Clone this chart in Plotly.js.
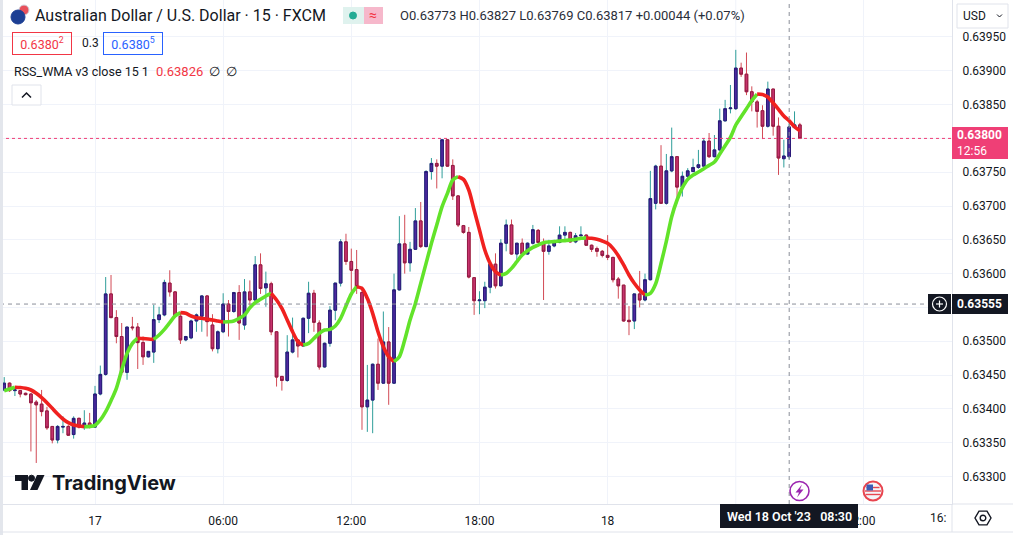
<!DOCTYPE html>
<html>
<head>
<meta charset="utf-8">
<script src="https://cdn.plot.ly/plotly-3.0.1.min.js"></script>
<style>
html, body { margin: 0; padding: 0; background: #fff; }
#chart { width: 1013px; height: 535px; }
</style>
</head>
<body>
<div id="chart"></div>
<script>
// AUD/USD 15 min bars (FXCM), 16 Oct 19:45 -> 18 Oct 09:00
var startTime = Date.UTC(2023, 9, 16, 19, 45);
var barMinutes = 15;

var opens = [
  0.63428, 0.63438, 0.63427, 0.63427, 0.63423, 0.63422, 0.63410, 0.63407, 0.63397, 0.63374,
  0.63354, 0.63373, 0.63374, 0.63362, 0.63386, 0.63373, 0.63379, 0.63373, 0.63422, 0.63451,
  0.63570, 0.63535, 0.63507, 0.63454, 0.63521, 0.63521, 0.63498, 0.63477, 0.63484, 0.63532,
  0.63539, 0.63586, 0.63573, 0.63537, 0.63502, 0.63505, 0.63530, 0.63537, 0.63567, 0.63524,
  0.63489, 0.63514, 0.63555, 0.63544, 0.63572, 0.63524, 0.63573, 0.63561, 0.63613, 0.63579,
  0.63585, 0.63514, 0.63448, 0.63442, 0.63484, 0.63502, 0.63493, 0.63534, 0.63571, 0.63527,
  0.63462, 0.63497, 0.63546, 0.63586, 0.63647, 0.63618, 0.63606, 0.63572, 0.63403, 0.63413,
  0.63466, 0.63438, 0.63499, 0.63438, 0.63576, 0.63644, 0.63616, 0.63636, 0.63678, 0.63640,
  0.63751, 0.63763, 0.63759, 0.63798, 0.63760, 0.63715, 0.63671, 0.63661, 0.63594, 0.63560,
  0.63560, 0.63580, 0.63614, 0.63582, 0.63645, 0.63672, 0.63629, 0.63645, 0.63629, 0.63645,
  0.63664, 0.63646, 0.63633, 0.63641, 0.63646, 0.63657, 0.63661, 0.63647, 0.63656, 0.63657,
  0.63642, 0.63637, 0.63633, 0.63627, 0.63624, 0.63592, 0.63583, 0.63531, 0.63530, 0.63570,
  0.63561, 0.63591, 0.63704, 0.63759, 0.63704, 0.63752, 0.63773, 0.63728, 0.63744, 0.63751,
  0.63757, 0.63759, 0.63796, 0.63773, 0.63783, 0.63826, 0.63844, 0.63844, 0.63904, 0.63895,
  0.63869, 0.63854, 0.63841, 0.63818, 0.63873, 0.63818, 0.63770, 0.63773, 0.63816, 0.63820
];
var highs = [
  0.63447, 0.63439, 0.63430, 0.63428, 0.63424, 0.63423, 0.63413, 0.63428, 0.63403, 0.63374,
  0.63376, 0.63389, 0.63376, 0.63389, 0.63387, 0.63398, 0.63394, 0.63434, 0.63464, 0.63595,
  0.63598, 0.63546, 0.63527, 0.63521, 0.63536, 0.63527, 0.63507, 0.63485, 0.63554, 0.63551,
  0.63591, 0.63605, 0.63574, 0.63543, 0.63508, 0.63532, 0.63541, 0.63568, 0.63568, 0.63540,
  0.63516, 0.63571, 0.63561, 0.63573, 0.63583, 0.63592, 0.63590, 0.63626, 0.63630, 0.63603,
  0.63588, 0.63515, 0.63448, 0.63509, 0.63535, 0.63502, 0.63535, 0.63588, 0.63576, 0.63531,
  0.63498, 0.63552, 0.63586, 0.63651, 0.63659, 0.63637, 0.63635, 0.63581, 0.63465, 0.63467,
  0.63504, 0.63544, 0.63521, 0.63600, 0.63685, 0.63687, 0.63647, 0.63697, 0.63706, 0.63753,
  0.63771, 0.63769, 0.63798, 0.63798, 0.63769, 0.63716, 0.63672, 0.63669, 0.63595, 0.63574,
  0.63588, 0.63615, 0.63630, 0.63651, 0.63680, 0.63680, 0.63645, 0.63652, 0.63646, 0.63672,
  0.63666, 0.63652, 0.63650, 0.63650, 0.63670, 0.63670, 0.63662, 0.63660, 0.63670, 0.63658,
  0.63643, 0.63640, 0.63635, 0.63657, 0.63625, 0.63595, 0.63583, 0.63552, 0.63570, 0.63604,
  0.63600, 0.63752, 0.63761, 0.63790, 0.63777, 0.63816, 0.63774, 0.63751, 0.63756, 0.63770,
  0.63783, 0.63800, 0.63808, 0.63805, 0.63844, 0.63857, 0.63879, 0.63931, 0.63912, 0.63927,
  0.63877, 0.63857, 0.63849, 0.63884, 0.63873, 0.63831, 0.63798, 0.63827, 0.63840, 0.63823
];
var lows = [
  0.63426, 0.63425, 0.63419, 0.63417, 0.63420, 0.63337, 0.63320, 0.63389, 0.63369, 0.63349,
  0.63349, 0.63364, 0.63360, 0.63356, 0.63371, 0.63369, 0.63371, 0.63372, 0.63420, 0.63449,
  0.63534, 0.63497, 0.63450, 0.63443, 0.63516, 0.63459, 0.63465, 0.63476, 0.63468, 0.63527,
  0.63537, 0.63566, 0.63536, 0.63496, 0.63500, 0.63503, 0.63514, 0.63514, 0.63507, 0.63485,
  0.63482, 0.63512, 0.63507, 0.63542, 0.63502, 0.63517, 0.63553, 0.63560, 0.63570, 0.63551,
  0.63509, 0.63433, 0.63427, 0.63440, 0.63482, 0.63476, 0.63492, 0.63512, 0.63514, 0.63458,
  0.63461, 0.63492, 0.63531, 0.63581, 0.63613, 0.63573, 0.63570, 0.63369, 0.63366, 0.63364,
  0.63428, 0.63437, 0.63406, 0.63437, 0.63575, 0.63600, 0.63603, 0.63635, 0.63638, 0.63639,
  0.63739, 0.63726, 0.63741, 0.63758, 0.63709, 0.63669, 0.63659, 0.63593, 0.63539, 0.63540,
  0.63549, 0.63571, 0.63578, 0.63581, 0.63633, 0.63628, 0.63618, 0.63628, 0.63628, 0.63643,
  0.63645, 0.63561, 0.63628, 0.63639, 0.63645, 0.63651, 0.63646, 0.63645, 0.63655, 0.63641,
  0.63632, 0.63625, 0.63624, 0.63620, 0.63587, 0.63563, 0.63529, 0.63509, 0.63518, 0.63550,
  0.63559, 0.63590, 0.63695, 0.63703, 0.63702, 0.63750, 0.63704, 0.63714, 0.63738, 0.63750,
  0.63755, 0.63758, 0.63771, 0.63772, 0.63781, 0.63825, 0.63837, 0.63842, 0.63891, 0.63864,
  0.63840, 0.63816, 0.63799, 0.63816, 0.63804, 0.63746, 0.63757, 0.63769, 0.63815, 0.63799
];
var closes = [
  0.63438, 0.63427, 0.63428, 0.63422, 0.63421, 0.63409, 0.63406, 0.63396, 0.63372, 0.63354,
  0.63374, 0.63374, 0.63361, 0.63386, 0.63373, 0.63379, 0.63373, 0.63422, 0.63451, 0.63570,
  0.63535, 0.63507, 0.63454, 0.63521, 0.63520, 0.63498, 0.63477, 0.63485, 0.63532, 0.63539,
  0.63587, 0.63573, 0.63537, 0.63502, 0.63507, 0.63530, 0.63539, 0.63567, 0.63529, 0.63489,
  0.63514, 0.63555, 0.63544, 0.63572, 0.63527, 0.63573, 0.63561, 0.63613, 0.63578, 0.63585,
  0.63514, 0.63447, 0.63442, 0.63484, 0.63502, 0.63493, 0.63534, 0.63571, 0.63528, 0.63462,
  0.63497, 0.63546, 0.63586, 0.63647, 0.63618, 0.63605, 0.63581, 0.63403, 0.63413, 0.63466,
  0.63438, 0.63499, 0.63438, 0.63576, 0.63644, 0.63616, 0.63636, 0.63678, 0.63640, 0.63751,
  0.63763, 0.63759, 0.63798, 0.63759, 0.63715, 0.63672, 0.63661, 0.63595, 0.63560, 0.63561,
  0.63580, 0.63614, 0.63582, 0.63645, 0.63672, 0.63629, 0.63645, 0.63629, 0.63645, 0.63665,
  0.63646, 0.63633, 0.63641, 0.63646, 0.63657, 0.63661, 0.63647, 0.63656, 0.63657, 0.63642,
  0.63636, 0.63633, 0.63627, 0.63624, 0.63591, 0.63582, 0.63530, 0.63529, 0.63570, 0.63561,
  0.63591, 0.63711, 0.63759, 0.63704, 0.63752, 0.63773, 0.63728, 0.63744, 0.63752, 0.63757,
  0.63761, 0.63796, 0.63773, 0.63783, 0.63826, 0.63844, 0.63845, 0.63904, 0.63895, 0.63869,
  0.63854, 0.63840, 0.63818, 0.63873, 0.63818, 0.63771, 0.63774, 0.63817, 0.63820, 0.63800
];
// RSS_WMA v3 (close, 15, 1)
var wma = [
  0.634269, 0.634294, 0.634320, 0.634316, 0.634304, 0.634279, 0.634230, 0.634166, 0.634092, 0.634008,
  0.633924, 0.633850, 0.633796, 0.633761, 0.633747, 0.633737, 0.633740, 0.633757, 0.633836, 0.633959,
  0.634121, 0.634304, 0.634575, 0.634821, 0.634969, 0.635045, 0.635040, 0.635033, 0.635028, 0.635093,
  0.635176, 0.635275, 0.635374, 0.635423, 0.635413, 0.635374, 0.635349, 0.635339, 0.635324, 0.635315,
  0.635300, 0.635285, 0.635288, 0.635300, 0.635339, 0.635388, 0.635495, 0.635570, 0.635620, 0.635669,
  0.635708, 0.635610, 0.635487, 0.635314, 0.635141, 0.634994, 0.634944, 0.634969, 0.635043, 0.635117,
  0.635166, 0.635176, 0.635226, 0.635339, 0.635521, 0.635699, 0.635807, 0.635782, 0.635635, 0.635413,
  0.635141, 0.634920, 0.634772, 0.634698, 0.634772, 0.635018, 0.635314, 0.635560, 0.635856, 0.636152,
  0.636448, 0.636719, 0.636990, 0.637187, 0.637385, 0.637434, 0.637394, 0.637237, 0.636941, 0.636645,
  0.636349, 0.636152, 0.636029, 0.635979, 0.636004, 0.636078, 0.636177, 0.636275, 0.636339, 0.636389,
  0.636423, 0.636458, 0.636468, 0.636473, 0.636483, 0.636488, 0.636497, 0.636507, 0.636522, 0.636532,
  0.636522, 0.636507, 0.636483, 0.636448, 0.636374, 0.636266, 0.636128, 0.635980, 0.635857, 0.635758,
  0.635684, 0.635709, 0.635850, 0.636150, 0.636480, 0.636842, 0.637089, 0.637271, 0.637394, 0.637458,
  0.637503, 0.637552, 0.637601, 0.637651, 0.637769, 0.637892, 0.638015, 0.638198, 0.638321, 0.638439,
  0.638558, 0.638656, 0.638650, 0.638612, 0.638523, 0.638430, 0.638331, 0.638260, 0.638173, 0.638114
];

// labelled ticks; the ones hidden under the badges only get a grid line
var priceTicks = [0.633, 0.6335, 0.634, 0.6345, 0.635, 0.636, 0.6365, 0.637, 0.6375, 0.6385, 0.639, 0.6395];
var priceLabels = ['0.63300', '0.63350', '0.63400', '0.63450', '0.63500', '0.63600', '0.63650', '0.63700', '0.63750', '0.63850', '0.63900', '0.63950'];
var hiddenPriceGrid = [0.6355, 0.638];
var timeTicks = ['2023-10-17 00:00', '2023-10-17 06:00', '2023-10-17 12:00', '2023-10-17 18:00', '2023-10-18 00:00', '2023-10-18 12:00'];
var timeLabels = ['17', '06:00', '12:00', '18:00', '18', '2:00'];
var hiddenTimeGrid = ['2023-10-18 06:00'];

var lastPrice = 0.638;
var crossPrice = 0.63555;
var crossTime = '2023-10-18 08:30';

var times = opens.map(function (o, i) {
  var d = new Date(startTime + i * barMinutes * 60000);
  return d.toISOString().slice(0, 16).replace('T', ' ');
});

// full candles give the wicks (teal / red), second pass paints the bodies
var wicks = {
  type: 'candlestick', x: times, open: opens, high: highs, low: lows, close: closes,
  increasing: { line: { color: '#2f9e9a', width: 1 }, fillcolor: '#2f9e9a' },
  decreasing: { line: { color: '#d24b55', width: 1 }, fillcolor: '#d24b55' },
  hoverinfo: 'skip', showlegend: false
};
var bodies = {
  type: 'candlestick', x: times, open: opens, close: closes,
  high: opens.map(function (o, i) { return Math.max(o, closes[i]); }),
  low: opens.map(function (o, i) { return Math.min(o, closes[i]); }),
  increasing: { line: { color: '#2c1878', width: 1 }, fillcolor: '#4b2a9f' },
  decreasing: { line: { color: '#8f1c45', width: 1 }, fillcolor: '#c8326e' },
  hoverinfo: 'skip', showlegend: false
};

var traces = [wicks, bodies];

// WMA: green while rising, red while falling
function rising(i) { return wma[i + 1] >= wma[i]; }
var runStart = 0, runUp = rising(0);
function pushRun(a, b, up) {
  traces.push({
    type: 'scatter', mode: 'lines', x: times.slice(a, b + 1), y: wma.slice(a, b + 1),
    line: { color: up ? '#62e32a' : '#f0211f', width: 3.6, shape: 'spline', smoothing: 0.8 },
    hoverinfo: 'skip', showlegend: false
  });
}
for (var j = 1; j < wma.length - 1; j++) {
  if (rising(j) !== runUp) {
    pushRun(runStart, j, runUp);
    runStart = j;
    runUp = rising(j);
  }
}
pushRun(runStart, wma.length - 1, runUp);

// pixel -> paper helpers for the decorations
var W = 952, H = 504;
function px(x) { return x / W; }
function py(y) { return 1 - y / H; }
function poly(pts) {
  return 'M' + pts.map(function (p) { return px(p[0]) + ',' + py(p[1]); }).join(' L') + ' Z';
}
function circ(cx, cy, r, line, fill, lw) {
  return { type: 'circle', xref: 'paper', yref: 'paper', x0: px(cx - r), x1: px(cx + r), y0: py(cy + r), y1: py(cy - r),
    line: { color: line, width: lw || 1 }, fillcolor: fill, layer: 'above' };
}
function rect(x0, y0, x1, y1, fill, line, lw) {
  return { type: 'rect', xref: 'paper', yref: 'paper', x0: px(x0), x1: px(x1), y0: py(y1), y1: py(y0),
    fillcolor: fill, line: { color: line || fill, width: lw === undefined ? 0 : lw }, layer: 'above' };
}
function seg(x0, y0, x1, y1, color, lw, dash) {
  return { type: 'line', xref: 'paper', yref: 'paper', x0: px(x0), x1: px(x1), y0: py(y0), y1: py(y1),
    line: { color: color, width: lw, dash: dash || 'solid' }, layer: 'above' };
}

var FONT = 'Roboto, "Noto Sans", sans-serif';
var ink = '#131722';
var gridColor = '#f0f3fa';

var shapes = [];
hiddenPriceGrid.forEach(function (p) {
  shapes.push({ type: 'line', xref: 'paper', yref: 'y', x0: 0, x1: 1, y0: p, y1: p,
    line: { color: gridColor, width: 1 }, layer: 'below' });
});
hiddenTimeGrid.forEach(function (t) {
  shapes.push({ type: 'line', xref: 'x', yref: 'paper', x0: t, x1: t, y0: 0, y1: 1,
    line: { color: gridColor, width: 1 }, layer: 'below' });
});

shapes = shapes.concat([
  // last price dotted line
  { type: 'line', xref: 'paper', yref: 'y', x0: 0, x1: 1, y0: lastPrice, y1: lastPrice,
    line: { color: '#ef3f76', width: 1, dash: 'dot' }, layer: 'above' },
  // crosshair
  { type: 'line', xref: 'x', yref: 'paper', x0: crossTime, x1: crossTime, y0: 0, y1: 1,
    line: { color: '#8a8e99', width: 1, dash: '4px,4px' }, layer: 'above' },
  { type: 'line', xref: 'paper', yref: 'y', x0: 0, x1: px(928), y0: crossPrice, y1: crossPrice,
    line: { color: '#8a8e99', width: 1, dash: '4px,4px' }, layer: 'above' },
  // frame lines
  rect(0, 0, 3, 535, '#e3e6ec'),
  seg(952, 504, 1013, 504, '#e0e3eb', 1),
  seg(952, 504, 952, 532, '#e0e3eb', 1),
  seg(0, 532, 1013, 532, '#e0e3eb', 1),
  // crosshair "+" button
  rect(928, 294, 951, 314, '#131722'),
  circ(939.5, 304, 7, '#ffffff', 'rgba(0,0,0,0)', 1.2),
  seg(936, 304, 943, 304, '#ffffff', 1.2),
  seg(939.5, 300.5, 939.5, 307.5, '#ffffff', 1.2),
  // header flag
  circ(24, 10, 5, '#d0d4de', '#e8505b', 1),
  circ(18, 17, 7, '#1c3f94', '#1c3f94', 1),
  // status badge
  rect(343, 7, 364, 24, '#dff2ee'),
  rect(364, 7, 383, 24, '#f6b8cb'),
  circ(353, 15.5, 3.5, '#22ab94', '#22ab94', 1),
  // collapse button
  rect(12, 85, 41, 105, '#ffffff', '#e0e3eb', 1),
  { type: 'path', xref: 'paper', yref: 'paper', path: 'M' + px(22) + ',' + py(97.5) + ' L' + px(26.5) + ',' + py(93) + ' L' + px(31) + ',' + py(97.5),
    line: { color: ink, width: 1.5 }, layer: 'above' },
  // USD selector
  rect(957, 4, 1008, 28, '#ffffff', '#e0e3eb', 1),
  { type: 'path', xref: 'paper', yref: 'paper', path: 'M' + px(997) + ',' + py(14.5) + ' L' + px(999.5) + ',' + py(17) + ' L' + px(1002) + ',' + py(14.5),
    line: { color: ink, width: 1 }, layer: 'above' },
  // price / time badges
  rect(952, 127, 1008, 159, '#ef3f76'),
  rect(952, 294, 1008, 314, '#131722'),
  rect(720, 504, 858, 528, '#131722'),
  // TradingView mark
  { type: 'path', xref: 'paper', yref: 'paper', path: poly([[15, 475], [28, 475], [28, 490], [21.5, 490], [21.5, 481], [15, 481]]),
    fillcolor: ink, line: { width: 0 }, layer: 'above' },
  circ(31.5, 478.2, 3, ink, ink, 0),
  { type: 'path', xref: 'paper', yref: 'paper', path: poly([[37, 475], [44.5, 475], [37.5, 490], [30, 490]]),
    fillcolor: ink, line: { width: 0 }, layer: 'above' },
  // economic event markers
  circ(799.5, 491, 9.5, '#9c27b0', '#ffffff', 1.6),
  { type: 'path', xref: 'paper', yref: 'paper', path: poly([[802, 484.5], [795.5, 492.5], [799, 492.5], [797, 497.5], [803.5, 489.5], [800, 489.5]]),
    fillcolor: '#9c27b0', line: { width: 0 }, layer: 'above' },
  circ(873, 491, 9.5, '#e8454f', '#f4f4f8', 2),
  seg(866.5, 487.5, 879.5, 487.5, '#e8454f', 1.4),
  seg(865, 491, 881, 491, '#e8454f', 1.4),
  seg(865.5, 494.5, 880.5, 494.5, '#e8454f', 1.4),
  rect(866.5, 484.5, 873, 490.5, '#3b5bb5'),
  // settings gear
  { type: 'path', xref: 'paper', yref: 'paper', path: poly([[991, 518], [987, 524.9], [979, 524.9], [975, 518], [979, 511.1], [987, 511.1]]),
    fillcolor: 'rgba(0,0,0,0)', line: { color: ink, width: 1.4 }, layer: 'above' },
  circ(983, 518, 2.8, ink, 'rgba(0,0,0,0)', 1.4)
]);

function note(text, x, y, opts) {
  var a = { xref: 'paper', yref: 'paper', x: px(x), y: py(y), text: text, showarrow: false,
    xanchor: 'left', yanchor: 'middle', font: { family: FONT, size: 13, color: ink } };
  for (var k in opts) a[k] = opts[k];
  return a;
}

var annotations = [
  note('Australian Dollar / U.S. Dollar · 15 · FXCM', 33, 15.5, { font: { family: FONT, size: 16, color: ink } }),
  note('≈', 367, 15, { font: { family: FONT, size: 14, color: '#f23645' } }),
  note('O0.63773 H0.63827 L0.63769 C0.63817 +0.00044 (+0.07%)', 398, 15.5, { font: { family: FONT, size: 13, color: '#2a2e39' } }),
  note('0.6380<sup>2</sup>', 12, 43, { bordercolor: '#f23645', borderwidth: 1, borderpad: 3, width: 52, height: 15,
    font: { family: FONT, size: 12.5, color: '#f23645' } }),
  note('0.3', 80, 43, { font: { family: FONT, size: 12, color: ink } }),
  note('0.6380<sup>5</sup>', 103, 43, { bordercolor: '#2962ff', borderwidth: 1, borderpad: 3, width: 52, height: 15,
    font: { family: FONT, size: 12.5, color: '#2962ff' } }),
  note('RSS_WMA v3 close 15 1', 12, 71.5, { font: { family: FONT, size: 12.5, color: ink } }),
  note('0.63826', 154, 71.5, { font: { family: FONT, size: 13, color: '#f23645' } }),
  note('∅&nbsp; ∅', 207, 71.5, { font: { family: FONT, size: 13, color: ink } }),
  note('TradingView', 50, 483, { font: { family: 'Inter, ' + FONT, size: 20, color: ink, weight: 700 } }),
  note('USD', 961, 16, { font: { family: FONT, size: 12, color: ink } }),
  note('<b>0.63800</b><br>12:56', 955, 143, { align: 'left', font: { family: FONT, size: 12, color: '#ffffff' } }),
  note('<b>0.63555</b>', 955, 304, { font: { family: FONT, size: 12, color: '#ffffff' } }),
  note("Wed 18 Oct '23&nbsp;&nbsp;&nbsp;08:30", 789, 516, { xanchor: 'center',
    font: { family: FONT, size: 12.5, color: '#ffffff', weight: 600 } }),
  note('16:', 948, 518, { xanchor: 'right', font: { family: FONT, size: 12, color: ink } })
];

var layout = {
  width: 1013, height: 535,
  margin: { l: 0, r: 61, t: 0, b: 31 },
  paper_bgcolor: '#ffffff', plot_bgcolor: '#ffffff',
  showlegend: false,
  xaxis: {
    type: 'date', range: ['2023-10-16 19:33:09', '2023-10-18 16:07:21'],
    tickvals: timeTicks, ticktext: timeLabels, ticks: '', ticklabelstandoff: 6,
    tickfont: { family: FONT, size: 12, color: ink },
    showgrid: true, gridcolor: gridColor, gridwidth: 1,
    showline: true, linecolor: '#e0e3eb', linewidth: 1,
    zeroline: false, rangeslider: { visible: false }, fixedrange: true
  },
  yaxis: {
    side: 'right', range: [0.632593, 0.640047],
    tickvals: priceTicks, ticktext: priceLabels, ticks: '', ticklabelstandoff: 7,
    tickfont: { family: FONT, size: 12, color: ink },
    showgrid: true, gridcolor: gridColor, gridwidth: 1,
    showline: true, linecolor: '#e0e3eb', linewidth: 1,
    zeroline: false, fixedrange: true
  },
  shapes: shapes,
  annotations: annotations
};

Plotly.newPlot('chart', traces, layout, { displayModeBar: false, staticPlot: true });
</script>
</body>
</html>
